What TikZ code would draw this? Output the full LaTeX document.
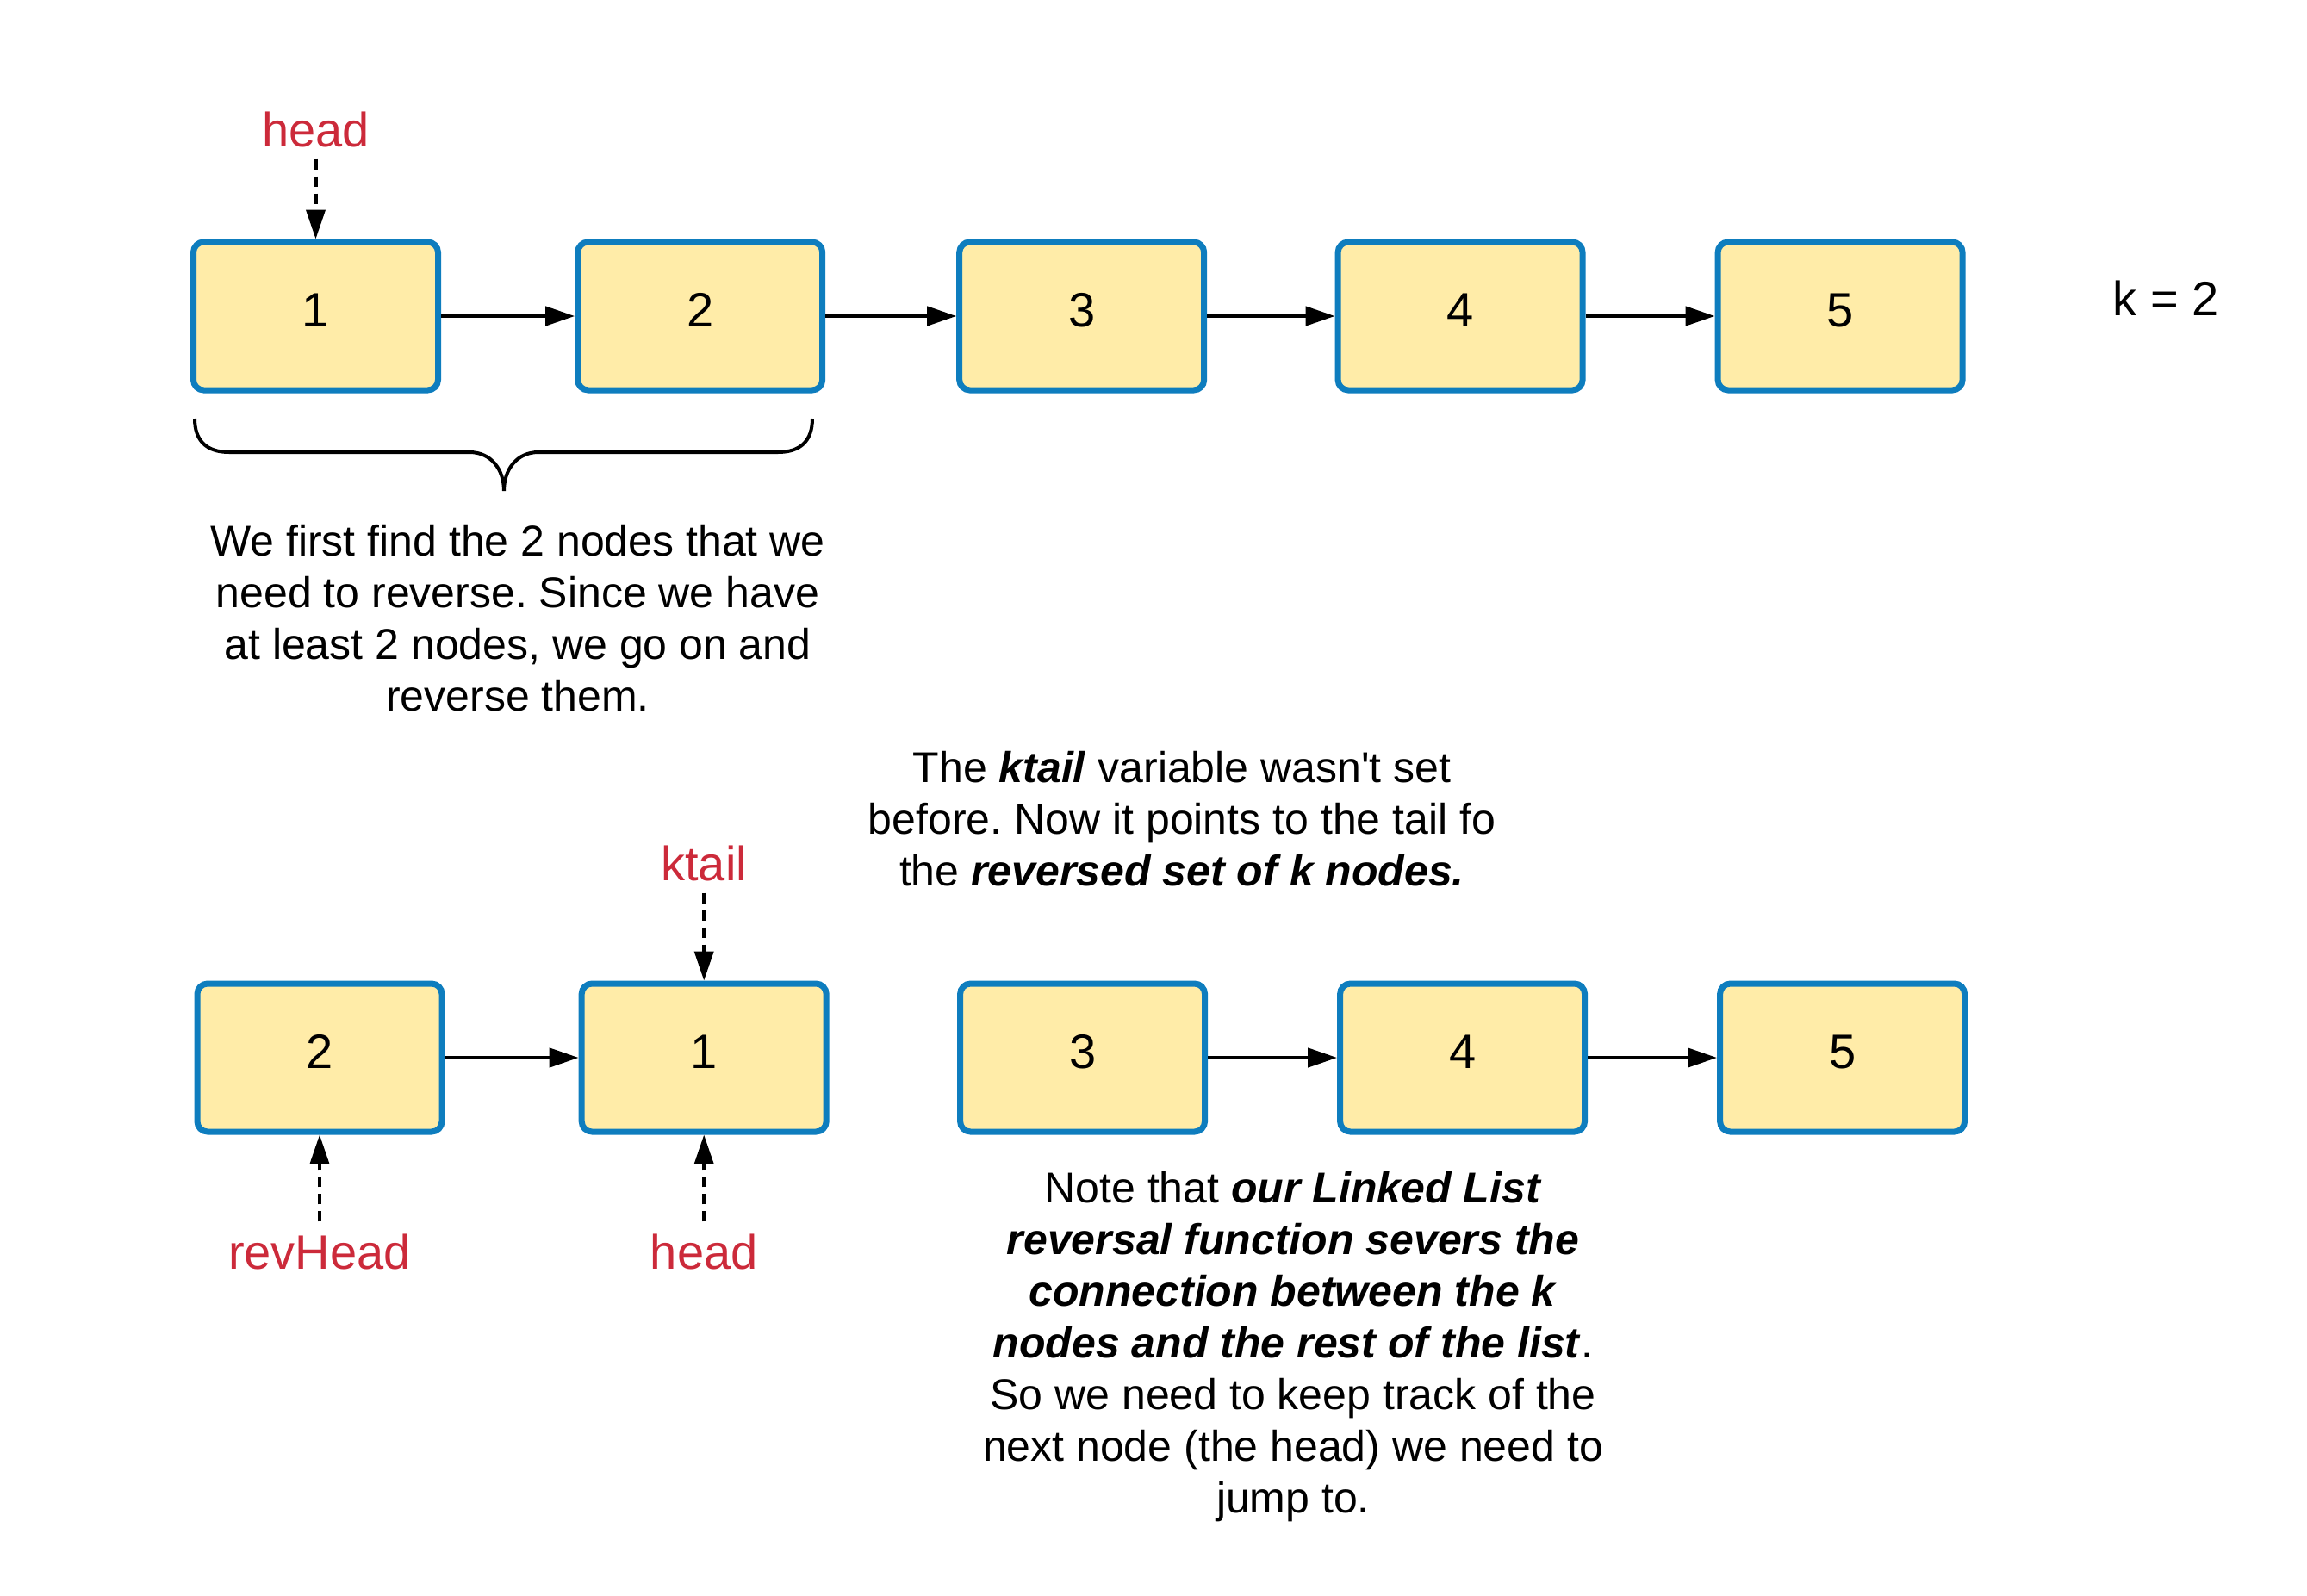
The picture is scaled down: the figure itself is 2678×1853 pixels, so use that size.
\documentclass[tikz,border=0pt]{standalone}
\usepackage{fontspec}
\setmainfont{Liberation Sans}
\usetikzlibrary{arrows.meta,positioning,calc}
\definecolor{boxfill}{HTML}{FFECA8}
\definecolor{boxline}{HTML}{0E7DBE}
\definecolor{ptrred}{HTML}{CC2A3A}
\tikzset{
  lnode/.style={
    draw=boxline,
    fill=boxfill,
    line width=1.75pt,
    rounded corners=3pt,
    minimum width=71pt,
    minimum height=43pt,
    text height=10pt,
    text depth=4pt,
    font=\fontsize{14pt}{17pt}\selectfont,
  },
  ptr/.style={text=ptrred, font=\fontsize{14pt}{17pt}\selectfont},
  link/.style={-{Triangle[length=8.5pt,width=5.5pt]}, line width=1.1pt},
  plink/.style={-{Triangle[length=8.5pt,width=5.5pt]}, line width=1pt, dash pattern=on 3pt off 2pt},
  note/.style={align=center, font=\fontsize{12.5pt}{15pt}\selectfont},
}
\newcommand{\bi}[1]{\textbf{\textit{#1}}}
\frenchspacing

\begin{document}
\begin{tikzpicture}[x=0.25pt, y=-0.25pt]
        \useasboundingbox (0,0) rectangle (2678,1853);

        % list before the reversal
        \node[lnode] (t1) at (366.5,367) {1};
        \node[lnode, right=38.8pt of t1] (t2) {2};
        \node[lnode, right=38pt of t2] (t3) {3};
        \node[lnode, right=37.1pt of t3] (t4) {4};
        \node[lnode, right=37.5pt of t4] (t5) {5};

        \draw[link] (t1) -- (t2);
        \draw[link] (t2) -- (t3);
        \draw[link] (t3) -- (t4);
        \draw[link] (t4) -- (t5);

        \node[ptr] (head) at ($(t1)+(0,-217)$) {head};
        \draw[plink] (head) -- (t1);

        \node[font=\fontsize{14pt}{17pt}\selectfont] (k) at (2514,346) {k = 2};

        \draw[line width=1pt] (226,486) .. controls (226,512) and (240,525) .. (266,525)
        -- (545,525) .. controls (570,525) and (585,545) .. (585,570)
        .. controls (585,545) and (600,525) .. (625,525)
        -- (903,525) .. controls (929,525) and (943,512) .. (943,486);

        \node[note] (find) at (601,718) {We first find the 2 nodes that we\\
          need to reverse. Since we have\\
          at least 2 nodes, we go on and\\
          reverse them.};

        % list after the reversal
        \node[lnode] (b2) at (371,1228) {2};
        \node[lnode, right=38.8pt of b2] (b1) {1};
        \node[lnode, right=37.1pt of b1] (b3) {3};
        \node[lnode, right=37.5pt of b3] (b4) {4};
        \node[lnode, right=37.5pt of b4] (b5) {5};

        \draw[link] (b2) -- (b1);
        \draw[link] (b3) -- (b4);
        \draw[link] (b4) -- (b5);

        \node[ptr] (ktail) at ($(b1)+(0,-226)$) {ktail};
        \node[ptr] (revhead) at ($(b2)+(0,225)$) {revHead};
        \node[ptr] (nhead) at ($(b1)+(0,225)$) {head};
        \draw[plink] (ktail) -- (b1);
        \draw[plink] (revhead) -- (b2);
        \draw[plink] (nhead) -- (b1);

        \node[note] (kt) at (1372,951) {The \bi{ktail} variable wasn\textquotesingle t set\\
          before. Now it points to the tail fo\\
          the \bi{reversed set of k nodes.}};

        \node[note] (sever) at (1501,1564) {Note that \bi{our Linked List}\\
          \bi{reversal function severs the}\\
          \bi{connection between the k}\\
          \bi{nodes and the rest of the list}.\\
          So we need to keep track of the\\
          next node (the head) we need to\\
          jump to.};
      \end{tikzpicture}
\end{document}
